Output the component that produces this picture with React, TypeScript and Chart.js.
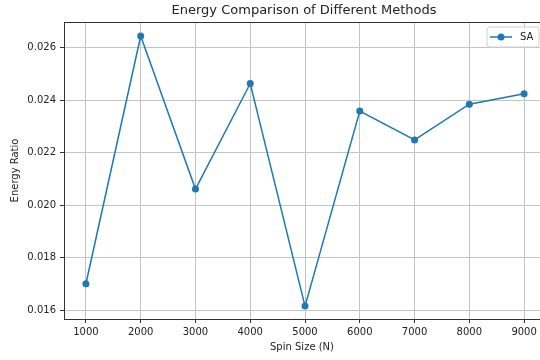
import React, { useEffect, useRef } from "react";
import { Chart, registerables } from "chart.js";

Chart.register(...registerables);

const spinSizes = [1000, 2000, 3000, 4000, 5000, 6000, 7000, 8000, 9000];
const saValues = [0.0170, 0.02644, 0.02061, 0.02463, 0.01615, 0.02358, 0.02248, 0.02384, 0.02424];
const xTicks = [1000, 2000, 3000, 4000, 5000, 6000, 7000, 8000, 9000];
const yTicks = [0.016, 0.018, 0.02, 0.022, 0.024, 0.026];

const titleText = "Energy Comparison of Different Methods";
const xTitle = "Spin Size (N)";
const yTitle = "Energy Ratio";
const seriesLabel = "SA";

const FONT = "'DejaVu Sans', sans-serif";
const LINE = "#1f77b4";
const TEXT = "#222";

const decorPlugin = {
  id: "decor",
  afterDraw(chart: any) {
    const { ctx, chartArea } = chart;
    ctx.save();
    // top spine
    ctx.strokeStyle = "#333";
    ctx.lineWidth = 1;
    ctx.beginPath();
    ctx.moveTo(chartArea.left, chartArea.top + 0.5);
    ctx.lineTo(chartArea.right, chartArea.top + 0.5);
    ctx.stroke();
    // title
    ctx.fillStyle = TEXT;
    ctx.font = `13px ${FONT}`;
    ctx.textAlign = "center";
    ctx.textBaseline = "middle";
    ctx.fillText(titleText, 304, 11);
    // legend
    const bx = 487, by = 27, bw = 52, bh = 20, r = 3;
    ctx.fillStyle = "rgba(255,255,255,0.8)";
    ctx.strokeStyle = "#d0d0d0";
    ctx.lineWidth = 1;
    ctx.beginPath();
    ctx.moveTo(bx + r, by);
    ctx.lineTo(bx + bw - r, by);
    ctx.quadraticCurveTo(bx + bw, by, bx + bw, by + r);
    ctx.lineTo(bx + bw, by + bh - r);
    ctx.quadraticCurveTo(bx + bw, by + bh, bx + bw - r, by + bh);
    ctx.lineTo(bx + r, by + bh);
    ctx.quadraticCurveTo(bx, by + bh, bx, by + bh - r);
    ctx.lineTo(bx, by + r);
    ctx.quadraticCurveTo(bx, by, bx + r, by);
    ctx.closePath();
    ctx.fill();
    ctx.stroke();
    const ly = by + bh / 2;
    ctx.strokeStyle = LINE;
    ctx.lineWidth = 1.5;
    ctx.beginPath();
    ctx.moveTo(490, ly);
    ctx.lineTo(512, ly);
    ctx.stroke();
    ctx.fillStyle = LINE;
    ctx.beginPath();
    ctx.arc(501, ly, 3.5, 0, Math.PI * 2);
    ctx.fill();
    ctx.fillStyle = TEXT;
    ctx.font = `10px ${FONT}`;
    ctx.textAlign = "left";
    ctx.fillText(seriesLabel, 520, ly);
    ctx.restore();
  },
};

export default function App() {
  const ref = useRef<HTMLCanvasElement | null>(null);
  useEffect(() => {
    if (!ref.current) return;
    const chart = new Chart(ref.current, {
      type: "line",
      data: {
        datasets: [
          {
            label: seriesLabel,
            data: spinSizes.map((x, i) => ({ x, y: saValues[i] })),
            borderColor: LINE,
            backgroundColor: LINE,
            borderWidth: 1.5,
            pointRadius: 3.5,
            pointBorderWidth: 0,
            pointBackgroundColor: LINE,
            tension: 0,
          },
        ],
      },
      options: {
        responsive: false,
        animation: false,
        layout: { autoPadding: false, padding: { left: 0, right: 0, top: 22, bottom: 0 } },
        plugins: {
          legend: { display: false },
          title: { display: false },
          tooltip: { enabled: false },
        },
        scales: {
          x: {
            type: "linear",
            min: 600,
            max: 9290,
            afterBuildTicks: (s: any) => {
              s.ticks = xTicks.map((v) => ({ value: v }));
            },
            afterFit: (s: any) => {
              s.height = 41;
              s.paddingLeft = 0;
              s.paddingRight = 0;
            },
            ticks: {
              color: TEXT,
              font: { family: FONT, size: 10 },
              padding: 3,
              maxRotation: 0,
              autoSkip: false,
              callback: (v: any) => String(v),
            },
            grid: { color: "#c4c4c4", lineWidth: 1, tickLength: 4, tickColor: "#333" },
            border: { color: "#333", width: 1 },
            title: {
              display: true,
              text: xTitle,
              color: TEXT,
              font: { family: FONT, size: 10 },
              padding: { top: 0, bottom: 7 },
            },
          },
          y: {
            type: "linear",
            min: 0.015658,
            max: 0.026973,
            afterBuildTicks: (s: any) => {
              s.ticks = yTicks.map((v) => ({ value: v }));
            },
            afterFit: (s: any) => {
              s.width = 64;
              s.paddingTop = 0;
              s.paddingBottom = 0;
            },
            ticks: {
              color: TEXT,
              font: { family: FONT, size: 10 },
              padding: 4,
              autoSkip: false,
              callback: (v: any) => Number(v).toFixed(3),
            },
            grid: { color: "#c4c4c4", lineWidth: 1, tickLength: 4, tickColor: "#333" },
            border: { color: "#333", width: 1 },
            title: {
              display: true,
              text: yTitle,
              color: TEXT,
              font: { family: FONT, size: 10 },
              padding: { top: 9, bottom: 0 },
            },
          },
        },
      },
      plugins: [decorPlugin],
    } as any);
    return () => chart.destroy();
  }, []);
  return (
    <div style={{ position: "absolute", left: 0, top: 0, width: 540, height: 360, background: "#fff" }}>
      <canvas ref={ref} width={540} height={360} style={{ width: 540, height: 360, display: "block" }} />
    </div>
  );
}
